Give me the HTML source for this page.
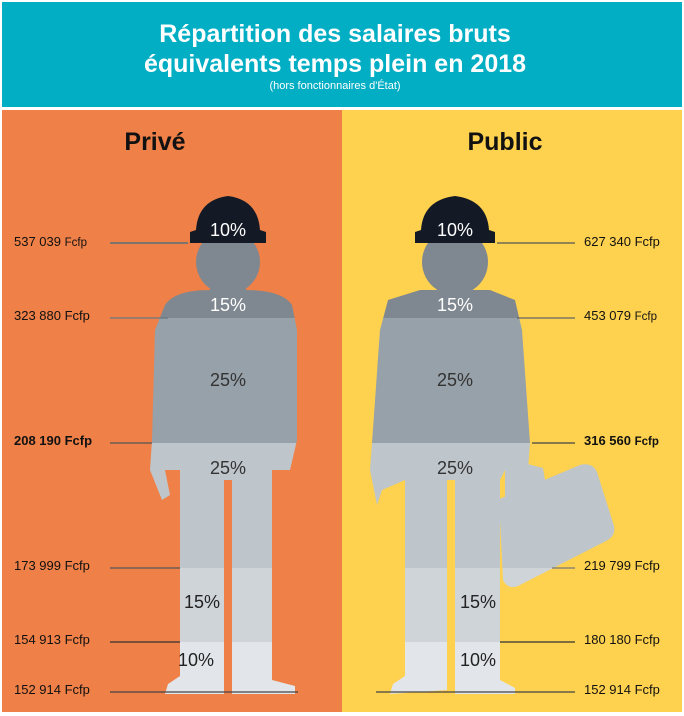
<!DOCTYPE html><html><head><meta charset="utf-8"><style>body{margin:0;width:684px;height:716px;overflow:hidden;background:#fff}svg{display:block}</style></head><body>
<svg width="684" height="716" viewBox="0 0 684 716" font-family="Liberation Sans, sans-serif">
<rect x="0" y="0" width="684" height="716" fill="#fff"/>
<rect x="2" y="2" width="680" height="105" fill="#02AEC4"/>
<rect x="2" y="110" width="340" height="602" fill="#EE8048"/>
<rect x="342" y="110" width="340" height="602" fill="#FED24F"/>
<text x="335" y="42" font-size="25" font-weight="bold" fill="#fff" text-anchor="middle">Répartition des salaires bruts</text>
<text x="335" y="72" font-size="25" font-weight="bold" fill="#fff" text-anchor="middle">équivalents temps plein en 2018</text>
<text x="335" y="89" font-size="11" fill="#fff" text-anchor="middle">(hors fonctionnaires d'État)</text>
<text x="155" y="150" font-size="25" font-weight="bold" fill="#111" text-anchor="middle">Privé</text>
<text x="505" y="150" font-size="25" font-weight="bold" fill="#111" text-anchor="middle">Public</text>
<defs>
<clipPath id="L">
<ellipse cx="228" cy="262" rx="32" ry="32"/>
<rect x="210" y="270" width="36" height="30"/>
<path d="M165,305 Q175,290 210,290 L246,290 Q282,290 292,305 L297,330 L297,440 L290,470 L272,470 L272,680 L295,686 L295,694 L232,694 L232,480 L224,480 L224,694 L165,694 L168,684 L180,676 L180,470 L165,470 L170,495 L162,500 L150,470 L152,440 L155,330 Z"/>
</clipPath>
<clipPath id="R">
<ellipse cx="455" cy="262" rx="33" ry="33"/>
<rect x="437" y="270" width="36" height="30"/>
<path d="M388,300 L420,290 L490,290 L515,300 L522,330 L530,443 L528,470 L505,470 L500,480 L500,680 L515,688 L515,694 L455,694 L455,480 L447,480 L447,690 L390,694 L393,684 L405,676 L405,480 L382,490 L377,505 L370,470 L372,443 L380,330 Z"/>
<path d="M505,470 L520,462 L543,468 L545,480 L505,500 Z"/>
<path d="M497,500 L580,465 Q592,462 597,472 L614,526 Q616,536 606,541 L518,586 Q508,590 503,580 L500,520 Z"/>
</clipPath>
</defs>
<g clip-path="url(#L)">
<rect x="100" y="150" width="240" height="168" fill="#7F8890"/>
<rect x="100" y="318" width="240" height="125" fill="#97A1A9"/>
<rect x="100" y="443" width="240" height="125" fill="#BEC5CB"/>
<rect x="100" y="568" width="240" height="74" fill="#CFD4D9"/>
<rect x="100" y="642" width="240" height="60" fill="#E2E6EA"/>
</g>
<g clip-path="url(#R)">
<rect x="340" y="150" width="300" height="168" fill="#7F8890"/>
<rect x="340" y="318" width="300" height="125" fill="#97A1A9"/>
<rect x="340" y="443" width="300" height="125" fill="#BEC5CB"/>
<rect x="340" y="568" width="300" height="74" fill="#CFD4D9"/>
<rect x="340" y="642" width="300" height="60" fill="#E2E6EA"/>
</g>
<path d="M190,243 L190,232 L196,230 Q198,200 228,196 Q258,200 260,230 L266,232 L266,243 Z" fill="#131A25"/>
<path d="M415,243 L415,232 L421,230 Q423,200 455,196 Q487,200 489,230 L495,232 L495,243 Z" fill="#131A25"/>
<g font-size="18" text-anchor="middle">
<text x="228" y="236" fill="#fff">10%</text><text x="228" y="311" fill="#fff">15%</text>
<text x="228" y="386" fill="#333">25%</text><text x="228" y="474" fill="#333">25%</text>
<text x="202" y="608" fill="#222">15%</text><text x="196" y="666" fill="#222">10%</text>
<text x="455" y="236" fill="#fff">10%</text><text x="455" y="311" fill="#fff">15%</text>
<text x="455" y="386" fill="#333">25%</text><text x="455" y="474" fill="#333">25%</text>
<text x="478" y="608" fill="#222">15%</text><text x="478" y="666" fill="#222">10%</text>
</g>
<g stroke-width="1.2">
<line x1="110" y1="243" x2="188" y2="243" stroke="#3a6d85"/>
<line x1="110" y1="318" x2="168" y2="318" stroke="#6a7880"/>
<line x1="110" y1="443" x2="152" y2="443" stroke="#555"/>
<line x1="110" y1="568" x2="180" y2="568" stroke="#555"/>
<line x1="110" y1="642" x2="180" y2="642" stroke="#333"/>
<line x1="110" y1="692" x2="298" y2="692" stroke="#444"/>
<line x1="497" y1="243" x2="575" y2="243" stroke="#555"/>
<line x1="517" y1="318" x2="575" y2="318" stroke="#666"/>
<line x1="532" y1="443" x2="575" y2="443" stroke="#444"/>
<line x1="552" y1="568" x2="575" y2="568" stroke="#777"/>
<line x1="500" y1="642" x2="575" y2="642" stroke="#333"/>
<line x1="376" y1="692" x2="575" y2="692" stroke="#444"/>
</g>
<g font-size="13" fill="#111">
<text x="14" y="246">537 039 <tspan font-size="11.5">Fcfp</tspan></text>
<text x="14" y="320">323 880 Fcfp</text>
<text x="14" y="445" font-weight="bold">208 190 Fcfp</text>
<text x="14" y="570">173 999 Fcfp</text>
<text x="14" y="644">154 913 Fcfp</text>
<text x="14" y="694">152 914 Fcfp</text>
<text x="584" y="246">627 340 Fcfp</text>
<text x="584" y="320">453 079 <tspan font-size="11.5">Fcfp</tspan></text>
<text x="584" y="445" font-weight="bold">316 560 <tspan font-size="11.5">Fcfp</tspan></text>
<text x="584" y="570">219 799 Fcfp</text>
<text x="584" y="644">180 180 Fcfp</text>
<text x="584" y="694">152 914 Fcfp</text>
</g>
</svg>
</body></html>
